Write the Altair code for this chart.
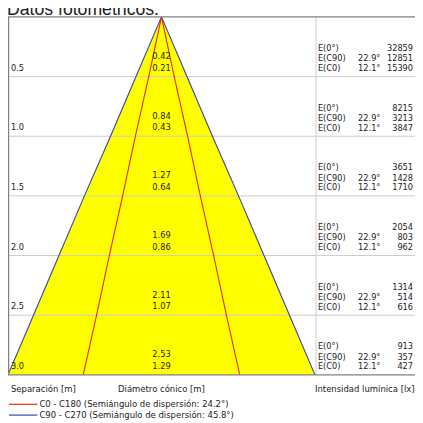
import altair as alt
import pandas as pd

# ---------------- data ----------------
title_text = "Datos fotométricos."
depths = [0.5, 1.0, 1.5, 2.0, 2.5, 3.0]
depth_labels = ["0.5", "1.0", "1.5", "2.0", "2.5", "3.0"]
diam_c90 = [0.42, 0.84, 1.27, 1.69, 2.11, 2.53]   # blue cone (outer)
diam_c0 = [0.21, 0.43, 0.64, 0.86, 1.07, 1.29]    # red cone (inner)
e_0 = [32859, 8215, 3651, 2054, 1314, 913]
e_c90 = [12851, 3213, 1428, 803, 514, 357]
e_c0 = [15390, 3847, 1710, 962, 616, 427]
angle_c90 = "22.9°"
angle_c0 = "12.1°"
row_names = ["E(0°)", "E(C90)", "E(C0)"]
axis_texts = ["Separación [m]", "Diámetro cónico [m]", "Intensidad lumínica [lx]"]
legend_labels = ["C0 - C180 (Semiángulo de dispersión: 24.2°)",
                 "C90 - C270 (Semiángulo de dispersión: 45.8°)"]

# ---------------- styling ----------------
W, H = 415, 415
FONT = "Tahoma, 'DejaVu Sans Condensed', 'DejaVu Sans', sans-serif"
TXT = "#222222"
YELLOW = "#ffff00"
BLUE = "#3240b0"
RED = "#e8231e"
GRID = "#cccccc"
FRAME = "#808080"

half_max = diam_c90[-1] / 2
px_per_m_x = 313 / diam_c90[-1]
px_per_m_y = 365 / depths[-1]
xs = alt.Scale(domain=[-half_max, -half_max + W / px_per_m_x], nice=False, zero=False)
ys = alt.Scale(domain=[-5 / px_per_m_y, (H - 5) / px_per_m_y], nice=False, zero=False, reverse=True)

rows = pd.DataFrame({
    "depth": depths, "label": depth_labels,
    "d90": diam_c90, "d0": diam_c0,
    "e0": e_0, "ec90": e_c90, "ec0": e_c0,
})
rows["d90s"] = rows["d90"].map(lambda v: f"{v:.2f}")
rows["d0s"] = rows["d0"].map(lambda v: f"{v:.2f}")

# cone area (apex + each row)
area_df = pd.DataFrame({
    "depth": [0.0] + depths,
    "left": [0.0] + [-d / 2 for d in diam_c90],
    "right": [0.0] + [d / 2 for d in diam_c90],
})

# cone edge lines
line_recs = []
for series, diams in (("c90", diam_c90), ("c0", diam_c0)):
    for side, sgn in (("l", -1), ("r", 1)):
        line_recs.append({"series": series, "k": series + side, "x": 0.0, "depth": 0.0})
        for dep, d in zip(depths, diams):
            line_recs.append({"series": series, "k": series + side, "x": sgn * d / 2, "depth": dep})
lines_df = pd.DataFrame(line_recs)

X = lambda f, **kw: alt.X(f, scale=xs, axis=None, **kw)
Y = lambda f, **kw: alt.Y(f, scale=ys, axis=None, **kw)

base = alt.Chart(rows)

cone = alt.Chart(area_df).mark_area(orient="horizontal", color=YELLOW, opacity=1).encode(
    y=Y("depth:Q"), x=X("left:Q"), x2="right:Q"
)

edges = alt.Chart(lines_df).mark_line(strokeWidth=1.1).encode(
    x=X("x:Q"), y=Y("depth:Q"), detail="k:N", order="depth:Q",
    color=alt.Color("series:N", scale=alt.Scale(domain=["c90", "c0"], range=[BLUE, RED]), legend=None),
)

grid = alt.Chart(pd.DataFrame({"depth": depths[:-1]})).mark_rule(color=GRID, strokeWidth=1).encode(
    y=Y("depth:Q"), x=alt.value(0), x2=alt.value(W)
)
frame_h = alt.Chart(pd.DataFrame({"depth": [0.0, depths[-1]]})).mark_rule(color=FRAME, strokeWidth=1.3).encode(
    y=Y("depth:Q"), x=alt.value(0), x2=alt.value(W)
)
frame_v = alt.Chart(pd.DataFrame({"a": [0.0], "b": [depths[-1]]})).mark_rule(color=FRAME, strokeWidth=1.3).encode(
    y=Y("a:Q"), y2="b:Q", x=alt.value(0.6)
)
divider = alt.Chart(pd.DataFrame({"a": [0.0], "b": [depths[-1]]})).mark_rule(color=GRID, strokeWidth=1).encode(
    y=Y("a:Q"), y2="b:Q", x=alt.value(314)
)

tkw = dict(font=FONT, fontSize=9.3, color=TXT, baseline="alphabetic")

depth_txt = base.mark_text(align="left", dy=-6, **tkw).encode(
    x=alt.value(3), y=Y("depth:Q"), text="label:N")
d90_txt = base.mark_text(align="center", dy=-18, **tkw).encode(
    x=alt.X(datum=0, scale=xs, axis=None), y=Y("depth:Q"), text="d90s:N")
d0_txt = base.mark_text(align="center", dy=-6, **tkw).encode(
    x=alt.X(datum=0, scale=xs, axis=None), y=Y("depth:Q"), text="d0s:N")

offs = [-26, -15.5, -5.5]
e_layers = []
for name, off in zip(row_names, offs):
    e_layers.append(base.mark_text(align="left", dy=off, text=name, **tkw).encode(
        x=alt.value(316), y=Y("depth:Q")))
for ang, off in ((angle_c90, offs[1]), (angle_c0, offs[2])):
    e_layers.append(base.mark_text(align="left", dy=off, text=ang, **tkw).encode(
        x=alt.value(357), y=Y("depth:Q")))
for col, off in (("e0", offs[0]), ("ec90", offs[1]), ("ec0", offs[2])):
    e_layers.append(base.mark_text(align="right", dy=off, **tkw).encode(
        x=alt.value(413), y=Y("depth:Q"), text=f"{col}:N"))

bkw = dict(font=FONT, fontSize=9.6, color=TXT, baseline="middle")
bottom = [
    alt.Chart(pd.DataFrame({"t": [axis_texts[0]]})).mark_text(align="left", **bkw).encode(
        x=alt.value(3), y=alt.value(384), text="t:N"),
    alt.Chart(pd.DataFrame({"t": [axis_texts[1]]})).mark_text(align="center", **bkw).encode(
        x=alt.X(datum=0, scale=xs, axis=None), y=alt.value(384), text="t:N"),
    alt.Chart(pd.DataFrame({"t": [axis_texts[2]]})).mark_text(align="left", **bkw).encode(
        x=alt.value(313), y=alt.value(384), text="t:N"),
]
leg = []
for lab, colr, yy in ((legend_labels[0], RED, 400), (legend_labels[1], BLUE, 411)):
    leg.append(alt.Chart(pd.DataFrame({"t": [lab]})).mark_rule(color=colr, strokeWidth=1.2).encode(
        x=alt.value(1), x2=alt.value(30), y=alt.value(yy)))
    leg.append(alt.Chart(pd.DataFrame({"t": [lab]})).mark_text(align="left", **bkw).encode(
        x=alt.value(32), y=alt.value(yy), text="t:N"))

title = alt.Chart(pd.DataFrame({"t": [title_text]})).mark_text(
    align="left", baseline="alphabetic", font="Liberation Sans", fontSize=18, color=TXT
).encode(x=alt.value(-1), y=alt.value(3), text="t:N")

chart = alt.layer(
    cone, grid, divider, edges, frame_h, frame_v,
    depth_txt, d90_txt, d0_txt, *e_layers, *bottom, *leg, title
).properties(
    width=W, height=H, padding=0, autosize=alt.AutoSizeParams(type="none"), background="white"
).configure_view(stroke=None)

chart.save("out.html", embed_options={"renderer": "svg", "actions": False})
